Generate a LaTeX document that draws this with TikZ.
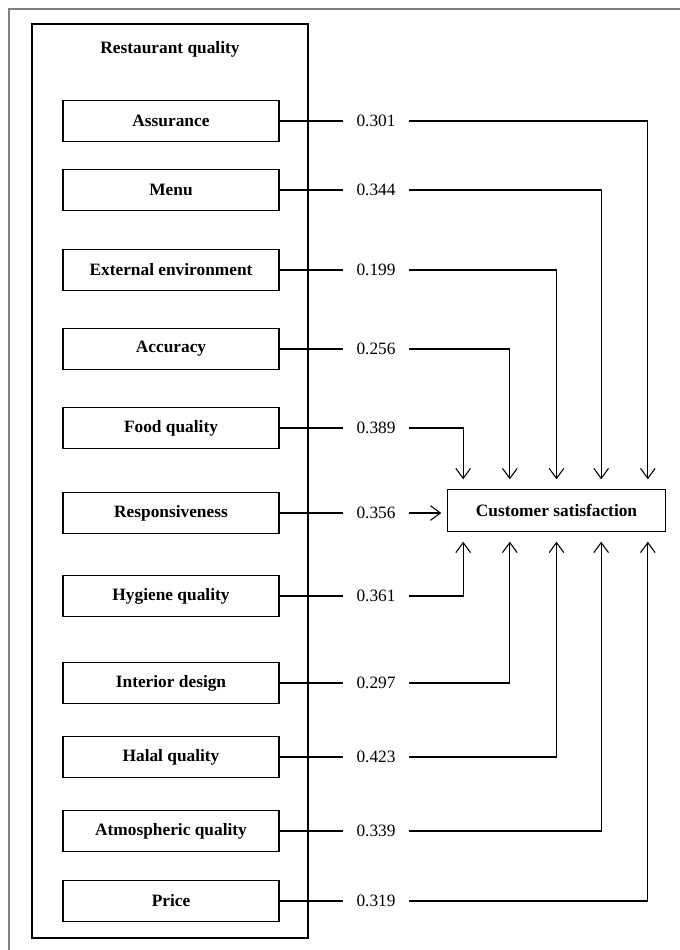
\documentclass[tikz,border=0pt]{standalone}
\usepackage{fontspec}
\setmainfont{Liberation Serif}
\usetikzlibrary{arrows.meta}

\begin{document}
\begin{tikzpicture}[x=0.75pt,y=-0.75pt,
  line width=0.8pt,
  font=\fontsize{13}{16}\selectfont,
  >={Straight Barb[length=7.5pt,width=11pt]},
  factor/.style={draw, font=\fontsize{13}{16}\selectfont\bfseries, minimum width=162pt, minimum height=31pt, inner sep=0pt},
  coef/.style={inner xsep=10pt, inner ysep=2pt}]
\useasboundingbox (0,0) rectangle (680,950);
\draw[gray, line width=1.2pt] (9,950) -- (9,9) -- (680,9);
\node[draw, minimum width=207pt, minimum height=685.5pt, inner sep=0pt] (rq) at (170,481) {};
\node[font=\fontsize{13}{16}\selectfont\bfseries, below=10pt] (title) at (rq.north) {Restaurant quality};
\node[factor] (as) at (171,121) {Assurance};
\node[factor] (me) at (171,190) {Menu};
\node[factor] (ee) at (171,270) {External environment};
\node[factor] (ac) at (171,349) {Accuracy};
\node[factor] (fq) at (171,428) {Food quality};
\node[factor] (re) at (171,513) {Responsiveness};
\node[factor] (hy) at (171,596) {Hygiene quality};
\node[factor] (id) at (171,683) {Interior design};
\node[factor] (hq) at (171,757) {Halal quality};
\node[factor] (at) at (171,831) {Atmospheric quality};
\node[factor] (pr) at (171,901) {Price};
\node[factor, minimum width=164pt, minimum height=32pt] (cs) at (556.5,510.5) {Customer satisfaction};
% path coefficients
\node[coef] (c1) at (376,121) {0.301};
\node[coef] (c2) at (376,190) {0.344};
\node[coef] (c3) at (376,270) {0.199};
\node[coef] (c4) at (376,349) {0.256};
\node[coef] (c5) at (376,428) {0.389};
\node[coef] (c6) at (376,513) {0.356};
\node[coef] (c7) at (376,596) {0.361};
\node[coef] (c8) at (376,683) {0.297};
\node[coef] (c9) at (376,757) {0.423};
\node[coef] (c10) at (376,831) {0.339};
\node[coef] (c11) at (376,901) {0.319};
\draw (as) -- (c1);
\draw (me) -- (c2);
\draw (ee) -- (c3);
\draw (ac) -- (c4);
\draw (fq) -- (c5);
\draw (re) -- (c6);
\draw (hy) -- (c7);
\draw (id) -- (c8);
\draw (hq) -- (c9);
\draw (at) -- (c10);
\draw (pr) -- (c11);
% into customer satisfaction
\draw[->, shorten >=7pt] (c1) -| ([xshift=68.5pt]cs.north);
\draw[->, shorten >=7pt] (c2) -| ([xshift=33.5pt]cs.north);
\draw[->, shorten >=7pt] (c3) -| (cs.north);
\draw[->, shorten >=7pt] (c4) -| ([xshift=-35pt]cs.north);
\draw[->, shorten >=7pt] (c5) -| ([xshift=-70pt]cs.north);
\draw[->, shorten >=4pt] (c6) -- (c6 -| cs.west);
\draw[->, shorten >=7pt] (c7) -| ([xshift=-70pt]cs.south);
\draw[->, shorten >=7pt] (c8) -| ([xshift=-35pt]cs.south);
\draw[->, shorten >=7pt] (c9) -| (cs.south);
\draw[->, shorten >=7pt] (c10) -| ([xshift=33.5pt]cs.south);
\draw[->, shorten >=7pt] (c11) -| ([xshift=68.5pt]cs.south);
\end{tikzpicture}
\end{document}
